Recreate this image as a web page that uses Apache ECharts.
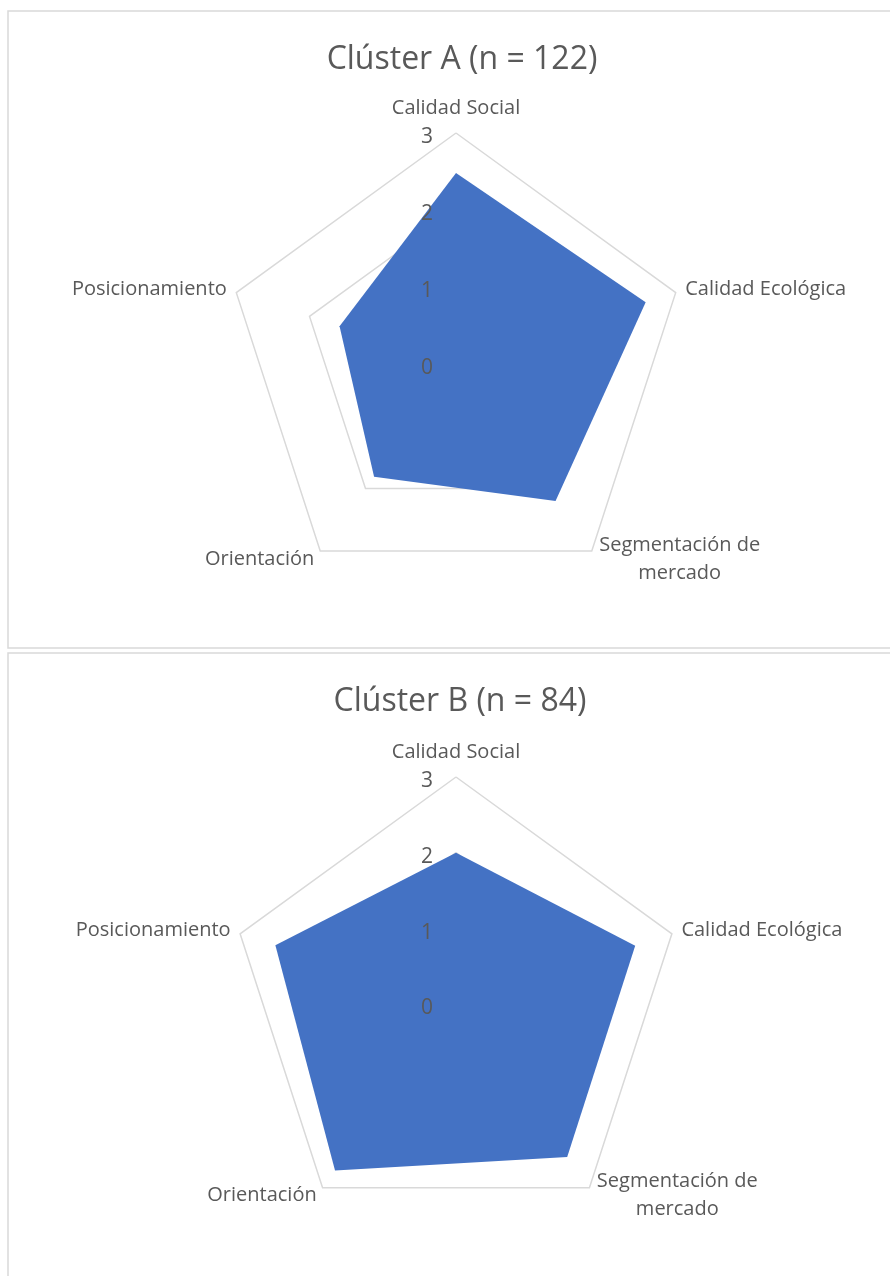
<!DOCTYPE html>
<html>
<head>
<meta charset="utf-8">
<script src="https://cdn.jsdelivr.net/npm/echarts@6/dist/echarts.min.js"></script>
<style>
  html, body { margin: 0; padding: 0; background: #fff; }
  #main { width: 890px; height: 1276px; }
</style>
</head>
<body>
<div id="main"></div>
<script>
// ejes en el orden de Excel (sentido horario desde arriba)
var categorias = ['Calidad Social', 'Calidad Ecológica', 'Segmentación de mercado', 'Orientación', 'Posicionamiento'];
var clusterA = [2.48, 2.59, 2.20, 1.81, 1.59];
var clusterB = [2.00, 2.49, 2.50, 2.72, 2.51];
var titulos = ['Clúster A (n = 122)', 'Clúster B (n = 84)'];
var escalaMax = 3;

// echarts reparte los ejes en sentido antihorario -> invertir el resto
function ordenRadar(arr) {
    return [arr[0]].concat(arr.slice(1).reverse());
}

var gris = '#595959';
var fuente = 'Open Sans';

function indicadores(conEtiquetas) {
    return ordenRadar(categorias).map(function (c, i) {
        var ind = { name: c, min: 0, max: escalaMax };
        if (i === 0) {
            ind.nameGap = 15;
            if (conEtiquetas) {
                ind.axisLabel = {
                    show: true,
                    color: gris,
                    fontFamily: fuente,
                    fontSize: 21,
                    margin: 23,
                    verticalAlign: 'top',
                    lineHeight: 9
                };
            }
        }
        return ind;
    });
}

function nombreEje(value) {
    if (value === 'Segmentación de mercado') {
        return '{c|Segmentación de}\n{c|mercado}';
    }
    return value;
}

// radar de fondo: rejilla y nombres (debajo del relleno)
function radarFondo(center, radius) {
    return {
        center: center,
        radius: radius,
        startAngle: 90,
        splitNumber: 3,
        shape: 'polygon',
        indicator: indicadores(false),
        nameGap: 10,
        axisName: {
            color: gris,
            fontFamily: fuente,
            fontSize: 20,
            formatter: nombreEje,
            rich: {
                c: { width: 164, align: 'center', color: gris, fontFamily: fuente, fontSize: 20, lineHeight: 28 }
            }
        },
        axisLine: { show: false },
        axisTick: { show: false },
        axisLabel: { show: false },
        splitLine: { lineStyle: { color: '#d9d9d9', width: 1.5 } },
        splitArea: { show: false }
    };
}

// radar encima: solo las etiquetas 0-3 del primer eje
function radarEtiquetas(center, radius) {
    return {
        center: center,
        radius: radius,
        startAngle: 90,
        splitNumber: 3,
        shape: 'polygon',
        z: 10,
        indicator: indicadores(true),
        axisName: { show: false },
        axisLine: { show: false },
        axisTick: { show: false },
        axisLabel: { show: false },
        splitLine: { show: false },
        splitArea: { show: false }
    };
}

function serieRadar(idx, valores, nombre) {
    return {
        type: 'radar',
        radarIndex: idx,
        symbol: 'none',
        lineStyle: { width: 0 },
        areaStyle: { color: '#4472C4', opacity: 1 },
        data: [{ value: ordenRadar(valores), name: nombre }]
    };
}

var myChart = echarts.init(document.getElementById('main'));

var estiloTitulo = { color: gris, fontFamily: fuente, fontSize: 32, fontWeight: 'normal' };

var option = {
    animation: false,
    title: [
        { text: titulos[0], left: 457, top: 39, textAlign: 'center', textStyle: estiloTitulo },
        { text: titulos[1], left: 455, top: 681, textAlign: 'center', textStyle: estiloTitulo }
    ],
    graphic: [
        { type: 'rect', shape: { x: 8, y: 11, width: 900, height: 637 },
          style: { fill: 'none', stroke: '#d9d9d9', lineWidth: 1.5 }, z: -1 },
        { type: 'rect', shape: { x: 8, y: 653, width: 900, height: 700 },
          style: { fill: 'none', stroke: '#d9d9d9', lineWidth: 1.5 }, z: -1 }
    ],
    radar: [
        radarFondo([456, 364], 231),
        radarFondo([456, 1004], 227),
        radarEtiquetas([456, 364], 231),
        radarEtiquetas([456, 1004], 227)
    ],
    series: [
        serieRadar(0, clusterA, titulos[0]),
        serieRadar(1, clusterB, titulos[1])
    ]
};

myChart.setOption(option);
</script>
</body>
</html>
